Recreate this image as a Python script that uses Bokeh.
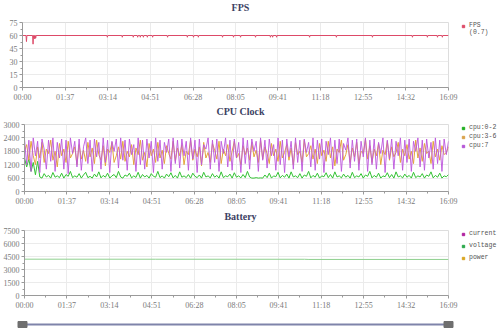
import numpy as np
from bokeh.plotting import figure
from bokeh.layouts import column, row
from bokeh.models import FixedTicker, Legend, LegendItem, Range1d, Label
from bokeh.embed import file_html
from bokeh.resources import INLINE

# ---------------- data ----------------
tick_seconds = [0, 97, 194, 291, 388, 485, 581, 678, 775, 872, 969]
tick_labels = ["00:00", "01:37", "03:14", "04:51", "06:28", "08:05",
               "09:41", "11:18", "12:55", "14:32", "16:09"]

fps_ticks = [0, 15, 30, 45, 60, 75]
cpu_ticks = [0, 600, 1200, 1800, 2400, 3000]
bat_ticks = [0, 1500, 3000, 4500, 6000, 7500]

fps_time = [0, 8, 9, 10, 23, 24, 25, 26, 27, 28, 29, 30, 31,
            192, 193, 194, 226, 227, 228, 251, 252, 253, 261, 262, 263,
            267, 268, 269, 274, 275, 276, 283, 284, 285, 295, 296, 297,
            329, 330, 331, 374, 375, 376, 388, 389, 390, 399, 400, 401,
            454, 455, 456, 479, 480, 481, 495, 496, 497, 529, 530, 531,
            563, 564, 565, 568, 569, 570, 577, 578, 579, 652, 653, 654,
            713, 714, 715, 795, 796, 797, 886, 887, 888, 920, 921, 922,
            943, 944, 945, 954, 955, 956, 969]
fps_value = [60, 60, 53, 60, 60, 50, 60, 57, 60, 56, 60, 57, 60,
             60, 58, 60, 60, 58, 60, 60, 58, 60, 60, 58, 60,
             60, 58, 60, 60, 58, 60, 60, 58, 60, 60, 58, 60,
             60, 58, 60, 60, 58, 60, 60, 58, 60, 60, 58, 60,
             60, 58, 60, 60, 58, 60, 60, 58, 60, 60, 58, 60,
             60, 58, 60, 60, 58, 60, 60, 58, 60, 60, 58, 60,
             60, 58, 60, 60, 58, 60, 60, 58, 60, 60, 58, 60,
             60, 58, 60, 60, 58, 60, 60]

cpu_0_2 = [
    1500, 1100, 1450, 900, 1300, 750, 1350, 650, 600, 800, 650, 720, 600, 850, 640,
    700, 620, 820, 600, 760, 680, 900, 620, 700, 640, 800, 600, 740, 860, 620,
    680, 600, 780, 650, 880, 610, 720, 640, 820, 600, 700, 760, 620, 900, 650,
    600, 740, 680, 820, 610, 700, 630, 860, 600, 760, 650, 720, 600, 800, 680,
    640, 900, 620, 700, 600, 780, 660, 840, 610, 720, 600, 880, 640, 700, 620,
    760, 600, 820, 680, 620, 740, 600, 860, 650, 700, 610, 800, 640, 720, 600,
    880, 620, 700, 660, 780, 600, 840, 640, 700, 610, 760, 620, 900, 650, 600,
    600, 620, 600, 610, 600, 740, 620, 820, 600, 700, 660, 860, 610, 720, 640,
    780, 600, 880, 650, 700, 620, 800, 600, 740, 680, 900, 610, 720, 640, 820,
    600, 700, 660, 840, 620, 760, 600, 880, 650, 700, 610, 780, 640, 720, 600,
    860, 620, 700, 650, 800, 600, 740, 680, 900, 610, 720, 640, 820, 600, 700,
    660, 840, 620, 760, 600, 880, 650, 700, 610, 780, 640, 720, 600, 860, 620,
    700, 650, 800, 600, 740, 680, 880, 610, 720, 640, 820, 600, 700, 660, 760]

cpu_3_6 = [
    1800, 2100, 1400, 2250, 1600, 1200, 2000, 1500, 2200, 1300, 1900, 1700, 2300, 1400, 1800,
    1100, 2150, 1600, 1900, 1300, 2250, 1500, 1700, 2000, 1200, 2100, 1450, 1850, 1350, 2200,
    1550, 1950, 1250, 2300, 1650, 1400, 2050, 1150, 1900, 1750, 2200, 1300, 1600, 2000, 1450,
    2250, 1350, 1800, 1550, 2100, 1200, 1950, 1650, 2300, 1400, 1750, 1100, 2150, 1600, 1900,
    1300, 2200, 1500, 1850, 1250, 2050, 1700, 1450, 2250, 1350, 1950, 1600, 2100, 1200, 1800,
    1650, 2300, 1400, 1900, 1550, 2000, 1150, 2200, 1500, 1750, 1300, 2150, 1850, 1450, 2250,
    1250, 1900, 1600, 2100, 1350, 1800, 2250, 1500, 1700, 1200, 2050, 1650, 1950, 1400, 2200,
    1550, 1850, 1300, 2300, 1450, 2000, 1700, 1250, 2150, 1600, 1900, 1350, 2250, 1500, 1750,
    2100, 1400, 1950, 1200, 2200, 1650, 1800, 1300, 2300, 1550, 1700, 2050, 1450, 1900, 1250,
    2150, 1600, 1850, 1350, 2250, 1500, 2000, 1150, 1900, 1750, 2300, 1400, 1650, 2100, 1300,
    1950, 1550, 2200, 1250, 1800, 1700, 2350, 1450, 2050, 1300, 1900, 1600, 2150, 1200, 1850,
    1650, 2250, 1400, 2000, 1550, 1750, 2200, 1300, 1900, 1600, 2100, 1450, 1800, 1250, 2300,
    1500, 1950, 1350, 2150, 1700, 1800, 1250, 2250, 1550, 1900, 1400, 2050, 1650, 1750, 2000]

cpu_7 = [
    2350, 1200, 2300, 900, 2400, 1600, 2250, 850, 2350, 1900, 1000, 2300, 1350, 2400, 900,
    2200, 1500, 2350, 1000, 2300, 800, 2400, 1700, 2250, 1100, 2350, 950, 2000, 2400, 1250,
    2300, 900, 2350, 1550, 2200, 1000, 2400, 1300, 2300, 850, 2250, 1800, 2350, 1050, 2400,
    1400, 2300, 950, 2350, 1650, 2100, 900, 2400, 1200, 2300, 1000, 2350, 1500, 2250, 850,
    2400, 1350, 2300, 1000, 2200, 1750, 2350, 900, 2400, 1250, 2300, 1050, 2350, 1600, 2250,
    950, 2400, 1450, 2300, 850, 2350, 1200, 2100, 1900, 2400, 1000, 2300, 1300, 2350, 900,
    2250, 1700, 2400, 1100, 2300, 950, 2350, 1500, 2200, 850, 2400, 1250, 2300, 1000, 2350,
    1800, 2250, 900, 2400, 1400, 2300, 1050, 2350, 1600, 2100, 950, 2400, 1200, 2300, 850,
    2350, 1550, 2250, 1000, 2400, 1300, 2300, 900, 2350, 1750, 2200, 1100, 2400, 950, 2300,
    1450, 2350, 850, 2250, 1650, 2400, 1000, 2300, 1250, 2350, 900, 2150, 1850, 2400, 1050,
    2300, 1350, 2350, 950, 2250, 1550, 2400, 900, 2300, 1200, 2350, 1000, 2200, 1700, 2400,
    850, 2300, 1450, 2350, 1000, 2250, 1600, 2400, 950, 2300, 1300, 2350, 900, 2250, 1800,
    2400, 1100, 2300, 950, 2350, 1500, 2200, 1000, 2400, 1250, 2300, 900, 2350, 1650, 2250]

bat_time = [0, 300, 640, 650, 969]
bat_voltage = [4190, 4185, 4180, 4160, 4160]

# ---------------- layout helpers ----------------
X_END = tick_seconds[-1]
LEFT, RIGHT = 22, 12
MAIN_W = 460
LEG_W = 500 - MAIN_W
FRAME_W = MAIN_W - LEFT - RIGHT
BOTTOM = 17
XS = X_END / FRAME_W                      # data units per pixel along x
FULL_X = (-LEFT * XS, X_END + (500 - LEFT - FRAME_W) * XS)
minor_x = [(a + b) / 2 for a, b in zip(tick_seconds[:-1], tick_seconds[1:])]

TITLE_COLOR = "#3d4263"
LABEL_COLOR = "#7a7a7a"
AXIS_COLOR = "#9a9a9a"
GRID_COLOR = "#ebebeb"


def bare_figure(width, height, xr, top=0):
    f = figure(width=width, height=height, output_backend="svg", toolbar_location=None,
               x_range=Range1d(*xr), y_range=Range1d(0, 1),
               x_axis_location=None, y_axis_location=None,
               min_border_left=0, min_border_right=0, min_border_top=top, min_border_bottom=0)
    f.grid.visible = False
    f.outline_line_color = None
    f.background_fill_color = "white"
    f.border_fill_color = "white"
    return f


def title_figure(text, height):
    f = bare_figure(500, height, FULL_X)
    f.add_layout(Label(x=X_END / 2 + 5 * XS, y=0.5, text=text,
                       text_align="center", text_baseline="middle",
                       text_font="Liberation Serif", text_font_size="10px",
                       text_font_style="bold", text_color=TITLE_COLOR))
    return f


def make_panel(yticks, height, top):
    p = figure(width=MAIN_W, height=height, output_backend="svg", toolbar_location=None,
               x_range=Range1d(0, X_END), y_range=Range1d(yticks[0], yticks[-1]),
               min_border_left=LEFT, min_border_right=RIGHT,
               min_border_top=top, min_border_bottom=BOTTOM)
    p.outline_line_color = "#dddddd"
    p.background_fill_color = "white"
    p.border_fill_color = "white"
    minor_y = [(a + b) / 2 for a, b in zip(yticks[:-1], yticks[1:])]
    p.xaxis.ticker = FixedTicker(ticks=tick_seconds, minor_ticks=minor_x)
    p.xaxis.major_label_overrides = {s: l for s, l in zip(tick_seconds, tick_labels)}
    p.yaxis.ticker = FixedTicker(ticks=yticks, minor_ticks=minor_y)
    for ax in (p.xaxis[0], p.yaxis[0]):
        ax.axis_line_color = AXIS_COLOR
        ax.major_tick_line_color = AXIS_COLOR
        ax.minor_tick_line_color = AXIS_COLOR
        ax.major_tick_in = 0
        ax.major_tick_out = 3
        ax.minor_tick_in = 0
        ax.minor_tick_out = 2
        ax.major_label_text_font = "Liberation Serif"
        ax.major_label_text_font_size = "8px"
        ax.major_label_text_color = LABEL_COLOR
        ax.major_label_standoff = 2
    p.xgrid.grid_line_color = GRID_COLOR
    p.ygrid.grid_line_color = GRID_COLOR
    return p


def legend_figure(entries, height, top, spacing=2):
    f = bare_figure(LEG_W, height, (0, 1), top=top)
    items = []
    for label, color in entries:
        # legend swatch renderer: one point kept outside the visible range
        r = f.scatter(x=[-1], y=[-1], marker="square", size=7,
                      fill_color=color or "white", line_color=color or "white",
                      fill_alpha=1 if color else 0, line_alpha=1 if color else 0)
        items.append(LegendItem(label=label, renderers=[r]))
    lg = Legend(items=items, location="top_left")
    lg.border_line_alpha = 0
    lg.background_fill_alpha = 0
    lg.padding = 0
    lg.margin = 0
    lg.spacing = spacing
    lg.glyph_width = 6
    lg.glyph_height = 6
    lg.label_height = 6
    lg.label_standoff = 3
    lg.label_text_font = "Liberation Mono"
    lg.label_text_font_size = "6.5px"
    lg.label_text_color = "#555555"
    f.add_layout(lg, "center")
    return f


# FPS  (rows: 0..14 title, 14..104 chart)
t1 = title_figure("FPS", 14)
p1 = make_panel(fps_ticks, 90, 5)
p1.line(fps_time, fps_value, line_color="#dd4a68", line_width=1)
l1 = legend_figure([("FPS", "#dd4a68"), ("(0.7)", None)], 90, 8, spacing=-1)

# CPU  (104..118 title, 118..208 chart)
t2 = title_figure("CPU Clock", 14)
p2 = make_panel(cpu_ticks, 90, 6)
cpu_time = np.linspace(0, X_END, len(cpu_7))
p2.line(cpu_time, cpu_0_2, line_color="#33c233", line_width=1)
p2.line(cpu_time, cpu_3_6, line_color="#e3a63c", line_width=1)
p2.line(cpu_time, cpu_7, line_color="#bd55dd", line_width=1, line_alpha=0.9)
l2 = legend_figure([("cpu:0-2", "#1fae1f"), ("cpu:3-6", "#d9a24a"), ("cpu:7", "#b455d6")],
                   90, 5, spacing=2)

# Battery  (208..224 title, 224..312 chart)
t3 = title_figure("Battery", 16)
p3 = make_panel(bat_ticks, 88, 4)
p3.line(bat_time, bat_voltage, line_color="#8fd08f", line_width=1)
l3 = legend_figure([("current", "#b0209f"), ("voltage", "#2aa84a"), ("power", "#d9a520")],
                   88, 6, spacing=5)

# Slider (data-zoom bar)
ps = bare_figure(500, 24, FULL_X)
ps.line([tick_seconds[0], tick_seconds[-1]], [0.5, 0.5], line_color="#7f84aa", line_width=2)
ps.rect(x=[tick_seconds[0], tick_seconds[-1]], y=[0.5, 0.5], width=9, height=6,
        width_units="screen", height_units="screen", fill_color="#6f6f6f", line_color="#6f6f6f")

layout = column(t1, row(p1, l1, spacing=0),
                t2, row(p2, l2, spacing=0),
                t3, row(p3, l3, spacing=0),
                ps, spacing=0)
open("out.html", "w").write(file_html(layout, INLINE))
